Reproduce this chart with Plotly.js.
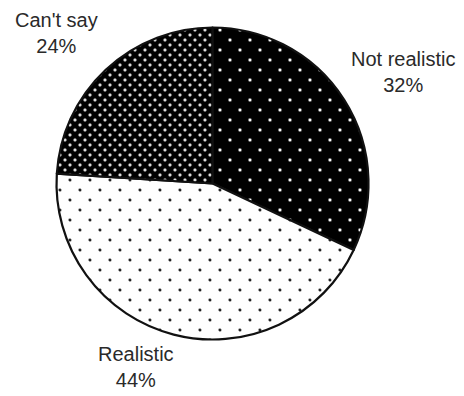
<!DOCTYPE html>
<html>
<head>
<meta charset="utf-8">
<script src="https://cdn.plot.ly/plotly-3.0.1.min.js"></script>
<style>html,body{margin:0;padding:0;background:#fff;}#chart{width:464px;height:396px;}</style>
</head>
<body>
<div id="chart"></div>
<script>
var categories = ["Not realistic", "Realistic", "Can't say"];
var values = [32, 44, 24];
var labelTexts = ["32%", "44%", "24%"];

var trace = {
  type: 'pie',
  labels: categories,
  values: values,
  sort: false,
  direction: 'clockwise',
  rotation: 0,
  textinfo: 'none',
  hoverinfo: 'skip',
  domain: {x: [0.1218, 0.7942], y: [0.1427, 0.9306]},
  marker: {
    colors: ['#000000', '#ffffff', '#000000'],
    line: {color: '#111111', width: 2.2},
    pattern: {
      shape: ['.', '.', '.'],
      bgcolor: ['#000000', '#ffffff', '#000000'],
      fgcolor: ['#ffffff', '#1a1a1a', '#ffffff'],
      size: [14.14, 14.14, 7.07],
      solidity: [0.04, 0.035, 0.15],
      fillmode: 'replace'
    }
  }
};

var annPos = [
  {x: 0.869, y: 0.818},
  {x: 0.293, y: 0.073},
  {x: 0.1207, y: 0.916}
];
var annotations = categories.map(function (c, i) {
  return {
    xref: 'paper', yref: 'paper',
    x: annPos[i].x, y: annPos[i].y,
    xanchor: 'center', yanchor: 'middle',
    showarrow: false,
    text: c + '<br>' + labelTexts[i],
    font: {family: 'Liberation Sans, Arial, sans-serif', size: 20, color: '#2a2a2a'}
  };
});

var layout = {
  width: 464, height: 396,
  margin: {l: 0, r: 0, t: 0, b: 0},
  paper_bgcolor: '#ffffff',
  showlegend: false,
  annotations: annotations
};

Plotly.newPlot('chart', [trace], layout, {displayModeBar: false, staticPlot: true}).then(function () {
  document.querySelectorAll('pattern').forEach(function (p) {
    p.setAttribute('patternTransform', 'rotate(45)');
  });
});
</script>
</body>
</html>
